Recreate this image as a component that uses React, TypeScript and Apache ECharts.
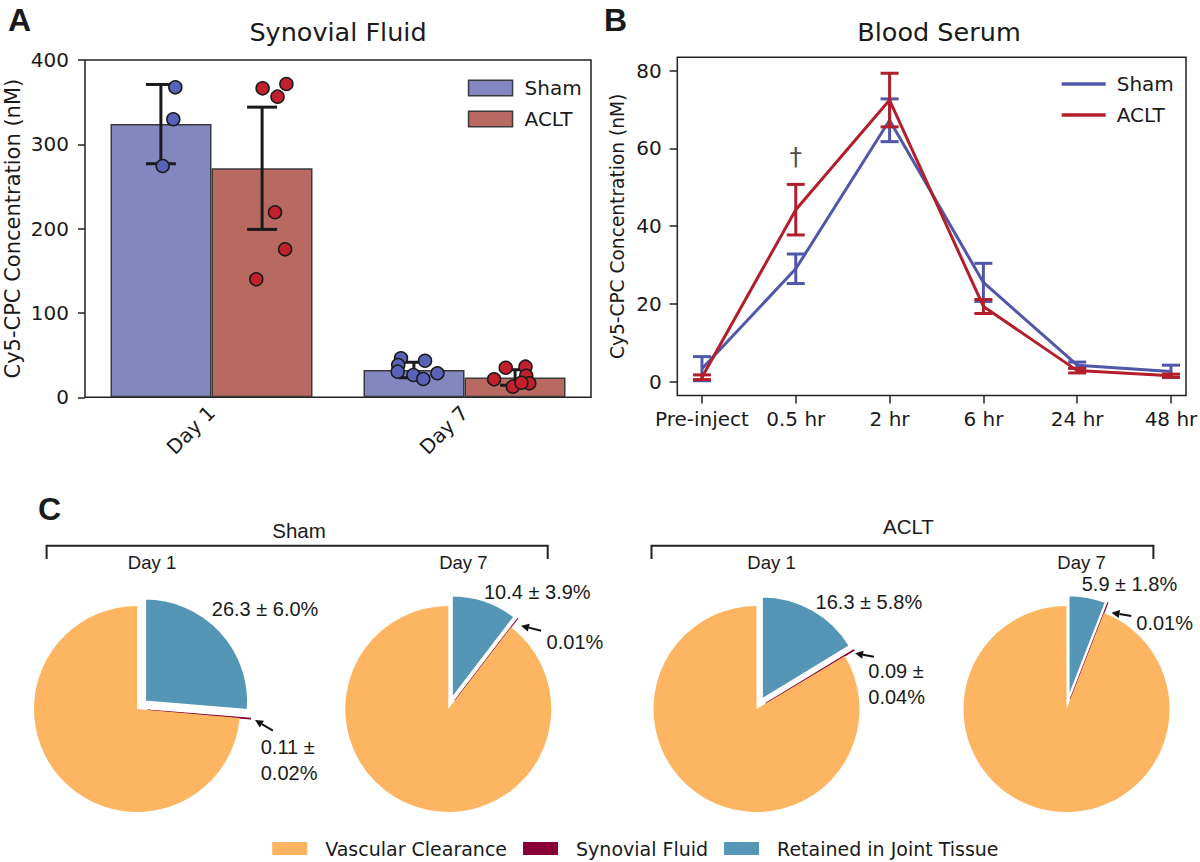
import React, { useEffect, useRef } from "react";
import * as echarts from "echarts";

// ---------- Panel A: Synovial fluid ----------
const barCategories = ["Day 1", "Day 7"];
const shamBarMeans = [324, 32.4];
const shamBarSd = [47, 9.2];
const acltBarMeans = [271.6, 23.5];
const acltBarSd = [72.5, 9.2];
// individual animals: [categoryIndex, value]
const shamPoints = [
  [0, 367.6], [0, 329.7], [0, 274.3],
  [1, 46.2], [1, 38.3], [1, 30.4], [1, 43.4], [1, 26.4], [1, 21.7], [1, 28.5],
];
const shamJitter = [-0.143, -0.151, -0.193, -0.251, -0.262, -0.264, -0.156, -0.202, -0.163, -0.107];
const acltPoints = [
  [0, 366.4], [0, 356.5], [0, 371.5], [0, 219.4], [0, 175.5], [0, 140],
  [1, 21.3], [1, 35.1], [1, 12.6], [1, 36.3], [1, 25.6], [1, 16.6], [1, 17.3],
];
const acltJitter = [0.202, 0.261, 0.296, 0.251, 0.291, 0.177, 0.117, 0.163, 0.191, 0.241, 0.244, 0.256, 0.225];
const yTicksA = [0, 100, 200, 300, 400];

// ---------- Panel B: Blood serum ----------
const timeLabels = ["Pre-inject", "0.5 hr", "2 hr", "6 hr", "24 hr", "48 hr"];
const shamSerum = [3.3, 29.0, 67.2, 25.5, 4.2, 2.6];
const shamSerumErr = [3.1, 3.8, 5.5, 4.9, 0.8, 1.6];
const acltSerum = [1.1, 44.2, 72.4, 19.3, 2.8, 1.5];
const acltSerumErr = [0.6, 6.5, 6.9, 1.8, 0.6, 0.4];
const yTicksB = [0, 20, 40, 60, 80];
const daggerMarks = [[1, 57.8]];

// ---------- Panel C: distribution pies ----------
const pieGroups = ["Sham", "Sham", "ACLT", "ACLT"];
const pieDays = ["Day 1", "Day 7", "Day 1", "Day 7"];
const retained = [26.3, 10.4, 16.3, 5.9];
const retainedSd = [6.0, 3.9, 5.8, 1.8];
const synovial = [0.11, 0.01, 0.09, 0.01];
const synovialSd: (number | null)[] = [0.02, null, 0.04, null];
const vascular = [73.59, 89.59, 83.61, 94.09];
const pieLegend = ["Vascular Clearance", "Synovial Fluid", "Retained in Joint Tissue"];

// ---------- styles / layout ----------
const DEJAVU = "'DejaVu Sans', sans-serif";
const ARIAL = "'Liberation Sans', Arial, sans-serif";
const INK = "#1a1a1a";
const C_SHAM_BAR = "#8287C0";
const C_ACLT_BAR = "#B86A62";
const C_SHAM_PT = "#5862B8";
const C_ACLT_PT = "#C2202C";
const C_SHAM_LINE = "#5057A9";
const C_ACLT_LINE = "#B31E2B";
const C_VAS = "#FDB562";
const C_SYN = "#880037";
const C_RET = "#5596B6";
const DODGE = 0.2;

const PIE_CX = [137, 448.3, 756.5, 1066.5];
const PIE_CY = 709;
const PIE_R = 103;
const RET_LABEL_OFF = [[74.8, -100], [35.7, -117.3], [59.1, -107.3], [15.2, -125]];
const SYN_LABEL_OFF = [[123.7, 24.7], [98.3, -67.3], [111.8, -51.3], [69.8, -85.7]];
const ARROWS = [
  [272.9, 730.7, 255, 720],
  [541.2, 630.7, 521, 625.7],
  [874, 656.7, 855, 653.3],
  [1131.3, 616, 1111.5, 612.7],
];

function errRender(capHalf: number, color: string, lw: number) {
  return (params: any, api: any) => {
    const x = api.value(0);
    const lo = api.coord([x, api.value(1)]);
    const hi = api.coord([x, api.value(2)]);
    const style = { stroke: color, lineWidth: lw };
    return {
      type: "group",
      children: [
        { type: "line", shape: { x1: lo[0], y1: lo[1], x2: hi[0], y2: hi[1] }, style },
        { type: "line", shape: { x1: lo[0] - capHalf, y1: lo[1], x2: lo[0] + capHalf, y2: lo[1] }, style },
        { type: "line", shape: { x1: hi[0] - capHalf, y1: hi[1], x2: hi[0] + capHalf, y2: hi[1] }, style },
      ],
    };
  };
}

function arrow(x1: number, y1: number, x2: number, y2: number) {
  const dx = x2 - x1, dy = y2 - y1;
  const L = Math.hypot(dx, dy);
  const ux = dx / L, uy = dy / L;
  const hl = 8, hw = 4;
  const bx = x2 - ux * hl, by = y2 - uy * hl;
  return [
    { type: "line", shape: { x1, y1, x2: bx, y2: by }, style: { stroke: "#111", lineWidth: 2 } },
    {
      type: "polygon",
      shape: { points: [[x2, y2], [bx - uy * hw, by + ux * hw], [bx + uy * hw, by - ux * hw]] },
      style: { fill: "#111" },
    },
  ];
}

function txt(text: string, x: number, y: number, size: number, opts: any = {}) {
  return {
    type: "text",
    x,
    y,
    style: {
      text,
      fontSize: size,
      fontFamily: opts.family || ARIAL,
      fontWeight: opts.weight || "normal",
      fill: INK,
      align: opts.align || "center",
      verticalAlign: opts.valign || "middle",
      lineHeight: opts.lineHeight,
    },
  };
}

function bracket(x1: number, x2: number, y: number, drop: number) {
  return {
    type: "polyline",
    shape: { points: [[x1, y + drop], [x1, y], [x2, y], [x2, y + drop]] },
    style: { stroke: "#222", lineWidth: 2, fill: "none" },
  };
}

function buildOption() {
  const shamErrA = shamBarMeans.map((m, i) => [i - DODGE, m - shamBarSd[i], m + shamBarSd[i]]);
  const acltErrA = acltBarMeans.map((m, i) => [i + DODGE, m - acltBarSd[i], m + acltBarSd[i]]);
  const shamPts = shamPoints.map((p, i) => [p[0] + shamJitter[i], p[1]]);
  const acltPts = acltPoints.map((p, i) => [p[0] + acltJitter[i], p[1]]);
  const shamErrB = shamSerum.map((m, i) => [i, m - shamSerumErr[i], m + shamSerumErr[i]]);
  const acltErrB = acltSerum.map((m, i) => [i, m - acltSerumErr[i], m + acltSerumErr[i]]);

  const axisTickStyle = { lineStyle: { color: "#222", width: 1.5 } };

  const pieSeries = pieGroups.map((g, i) => ({
    type: "pie",
    name: `${g} ${pieDays[i]}`,
    center: [PIE_CX[i], PIE_CY],
    radius: PIE_R,
    startAngle: 90,
    clockwise: true,
    selectedMode: "multiple",
    selectedOffset: 11,
    label: { show: false },
    labelLine: { show: false },
    emphasis: { disabled: true },
    itemStyle: { borderColor: "#fff", borderWidth: 1.2 },
    select: { itemStyle: { borderColor: "#fff", borderWidth: 1.2 } },
    data: [
      { name: pieLegend[2], value: retained[i], selected: true, itemStyle: { color: C_RET, borderWidth: 2 }, select: { itemStyle: { color: C_RET, borderColor: "#fff", borderWidth: 2 } } },
      {
        name: pieLegend[1],
        value: synovial[i],
        selected: true,
        itemStyle: { color: C_SYN, borderColor: C_SYN, borderWidth: 1.1 },
        select: { itemStyle: { color: C_SYN, borderColor: C_SYN, borderWidth: 1.1 } },
      },
      { name: pieLegend[0], value: vascular[i], itemStyle: { color: C_VAS, borderWidth: 0 } },
    ],
  }));

  const graphics: any[] = [
    txt("A", 8, 4, 32, { weight: "bold", align: "left", valign: "top" }),
    txt("B", 604, 4, 32, { weight: "bold", align: "left", valign: "top" }),
    txt("C", 38, 493, 32, { weight: "bold", align: "left", valign: "top" }),
    txt("Synovial Fluid", 338, 32, 25.5, { family: DEJAVU }),
    txt("Blood Serum", 939, 32, 25.5, { family: DEJAVU }),
    txt("Sham", 299, 530, 20.5),
    txt("ACLT", 908.4, 526, 20.5),
    bracket(46.6, 547.7, 545.7, 13.3),
    bracket(651.5, 1153.4, 545.7, 13.3),
  ];
  for (let i = 0; i < 4; i++) {
    graphics.push(txt(pieDays[i], PIE_CX[i] + 15, 562, 18.5));
    graphics.push(
      txt(`${retained[i].toFixed(1)} ± ${retainedSd[i].toFixed(1)}%`, PIE_CX[i] + RET_LABEL_OFF[i][0], PIE_CY + RET_LABEL_OFF[i][1], 20, { align: "left" })
    );
    const sd = synovialSd[i];
    const s = sd != null ? `${synovial[i].toFixed(2)} ±\n${sd.toFixed(2)}%` : `${synovial[i].toFixed(2)}%`;
    graphics.push(
      txt(s, PIE_CX[i] + SYN_LABEL_OFF[i][0], PIE_CY + SYN_LABEL_OFF[i][1], 20, {
        align: "left",
        valign: sd != null ? "top" : "middle",
        lineHeight: 26,
      })
    );
    const a = ARROWS[i];
    graphics.push(...arrow(a[0], a[1], a[2], a[3]));
  }

  const noLine = { show: false, onZero: false };

  return {
    animation: false,
    backgroundColor: "#ffffff",
    grid: [
      { left: 85, top: 60, width: 506, height: 337.3, show: true, borderColor: "#222", borderWidth: 1.5, outerBoundsMode: "none" },
      { left: 677.3, top: 57.3, width: 508.7, height: 338.2, show: true, borderColor: "#222", borderWidth: 1.5, outerBoundsMode: "none" },
    ],
    xAxis: [
      {
        type: "category",
        gridIndex: 0,
        data: barCategories,
        axisLine: noLine,
        axisTick: { alignWithLabel: true, length: 8, ...axisTickStyle },
        axisLabel: { rotate: 45, fontSize: 20, fontFamily: DEJAVU, color: INK, margin: 12 },
      },
      { type: "value", gridIndex: 0, min: -0.5, max: 1.5, show: false, axisLine: noLine },
      {
        type: "value",
        gridIndex: 1,
        min: -0.263,
        max: 5.16,
        axisLine: noLine,
        splitLine: { show: false },
        axisTick: { customValues: [0, 1, 2, 3, 4, 5], length: 8, ...axisTickStyle },
        axisLabel: {
          customValues: [0, 1, 2, 3, 4, 5],
          formatter: (v: number) => timeLabels[Math.round(v)],
          fontSize: 20,
          fontFamily: DEJAVU,
          color: INK,
          margin: 13,
        },
      },
    ],
    yAxis: [
      {
        type: "value",
        gridIndex: 0,
        min: 0,
        max: 400,
        interval: 100,
        name: "Cy5-CPC Concentration (nM)",
        nameLocation: "middle",
        nameGap: 62,
        nameTextStyle: { fontSize: 21, fontFamily: DEJAVU, color: INK },
        axisLine: noLine,
        splitLine: { show: false },
        axisTick: { customValues: yTicksA, length: 7, ...axisTickStyle },
        axisLabel: { customValues: yTicksA, fontSize: 20, fontFamily: DEJAVU, color: INK, margin: 16 },
      },
      {
        type: "value",
        gridIndex: 1,
        min: -3.6,
        max: 83.4,
        name: "Cy5-CPC Concentration (nM)",
        nameLocation: "middle",
        nameGap: 50,
        nameTextStyle: { fontSize: 18.6, fontFamily: DEJAVU, color: INK },
        axisLine: noLine,
        splitLine: { show: false },
        axisTick: { customValues: yTicksB, length: 7.7, ...axisTickStyle },
        axisLabel: { customValues: yTicksB, fontSize: 20, fontFamily: DEJAVU, color: INK, margin: 15.5 },
      },
    ],
    legend: [
      {
        data: [{ name: "Sham", icon: "rect" }, { name: "ACLT", icon: "rect" }],
        orient: "vertical",
        left: 462.8,
        top: 73,
        itemWidth: 44,
        itemHeight: 15.7,
        itemGap: 11,
        itemStyle: { borderColor: "#3a3a3a", borderWidth: 1.5 },
        textStyle: { fontSize: 20, fontFamily: DEJAVU, color: INK, padding: [0, 0, 0, 7] },
      },
      {
        data: [
          { name: "Sham", icon: "rect", itemStyle: { color: C_SHAM_LINE, borderWidth: 0 } },
          { name: "ACLT", icon: "rect", itemStyle: { color: C_ACLT_LINE, borderWidth: 0 } },
        ],
        orient: "vertical",
        left: 1056.7,
        top: 69,
        itemWidth: 44,
        itemHeight: 3.5,
        itemGap: 11,
        itemStyle: { borderWidth: 0 },
        textStyle: { fontSize: 20, fontFamily: DEJAVU, color: INK, padding: [0, 0, 0, 6] },
      },
      {
        data: pieLegend,
        orient: "horizontal",
        left: 267.2,
        top: 834,
        icon: "rect",
        itemWidth: 35,
        itemHeight: 13,
        itemGap: 16,
        itemStyle: { borderWidth: 0 },
        textStyle: { fontSize: 19, fontFamily: DEJAVU, color: INK, padding: [0, 0, 0, 13] },
      },
    ],
    series: [
      {
        type: "bar",
        name: "Sham",
        xAxisIndex: 0,
        yAxisIndex: 0,
        data: shamBarMeans,
        barWidth: 101,
        barGap: "0%",
        itemStyle: { color: C_SHAM_BAR, borderColor: "#3a3a3a", borderWidth: 1.5 },
        z: 2,
      },
      {
        type: "bar",
        name: "ACLT",
        xAxisIndex: 0,
        yAxisIndex: 0,
        data: acltBarMeans,
        barWidth: 101,
        barGap: "0%",
        itemStyle: { color: C_ACLT_BAR, borderColor: "#3a3a3a", borderWidth: 1.5 },
        z: 2,
      },
      {
        type: "custom",
        name: "Sham SD",
        xAxisIndex: 1,
        yAxisIndex: 0,
        data: shamErrA,
        encode: { x: 0, y: [1, 2] },
        renderItem: errRender(15, INK, 3),
        z: 3,
      },
      {
        type: "custom",
        name: "ACLT SD",
        xAxisIndex: 1,
        yAxisIndex: 0,
        data: acltErrA,
        encode: { x: 0, y: [1, 2] },
        renderItem: errRender(15, INK, 3),
        z: 3,
      },
      {
        type: "scatter",
        name: "Sham animals",
        xAxisIndex: 1,
        yAxisIndex: 0,
        data: shamPts,
        symbolSize: 13,
        itemStyle: { color: C_SHAM_PT, borderColor: INK, borderWidth: 1.5, opacity: 1 },
        z: 4,
      },
      {
        type: "scatter",
        name: "ACLT animals",
        xAxisIndex: 1,
        yAxisIndex: 0,
        data: acltPts,
        symbolSize: 13,
        itemStyle: { color: C_ACLT_PT, borderColor: INK, borderWidth: 1.5, opacity: 1 },
        z: 4,
      },
      {
        type: "line",
        name: "Sham",
        xAxisIndex: 2,
        yAxisIndex: 1,
        data: shamSerum.map((v, i) => [i, v]),
        symbol: "none",
        lineStyle: { color: C_SHAM_LINE, width: 3 },
        itemStyle: { color: C_SHAM_LINE },
        z: 2,
      },
      {
        type: "custom",
        name: "Sham SEM",
        xAxisIndex: 2,
        yAxisIndex: 1,
        data: shamErrB,
        encode: { x: 0, y: [1, 2] },
        renderItem: errRender(9, C_SHAM_LINE, 3),
        z: 2,
      },
      {
        type: "line",
        name: "ACLT",
        xAxisIndex: 2,
        yAxisIndex: 1,
        data: acltSerum.map((v, i) => [i, v]),
        symbol: "none",
        lineStyle: { color: C_ACLT_LINE, width: 3 },
        itemStyle: { color: C_ACLT_LINE },
        z: 3,
      },
      {
        type: "custom",
        name: "ACLT SEM",
        xAxisIndex: 2,
        yAxisIndex: 1,
        data: acltErrB,
        encode: { x: 0, y: [1, 2] },
        renderItem: errRender(9, C_ACLT_LINE, 3),
        z: 3,
      },
      {
        type: "scatter",
        name: "significance",
        xAxisIndex: 2,
        yAxisIndex: 1,
        data: daggerMarks,
        symbolSize: 0,
        label: { show: true, position: "inside", formatter: "†", fontSize: 25, fontFamily: DEJAVU, color: INK },
        z: 5,
      },
      ...pieSeries,
    ],
    graphic: graphics,
  };
}

export default function App() {
  const ref = useRef<HTMLDivElement>(null);
  useEffect(() => {
    const chart = echarts.init(ref.current!, null, { renderer: "svg" });
    chart.setOption(buildOption() as any);
    return () => chart.dispose();
  }, []);
  return (
    <div
      ref={ref}
      style={{ position: "fixed", left: 0, top: 0, width: 1200, height: 862, background: "#fff" }}
    />
  );
}
